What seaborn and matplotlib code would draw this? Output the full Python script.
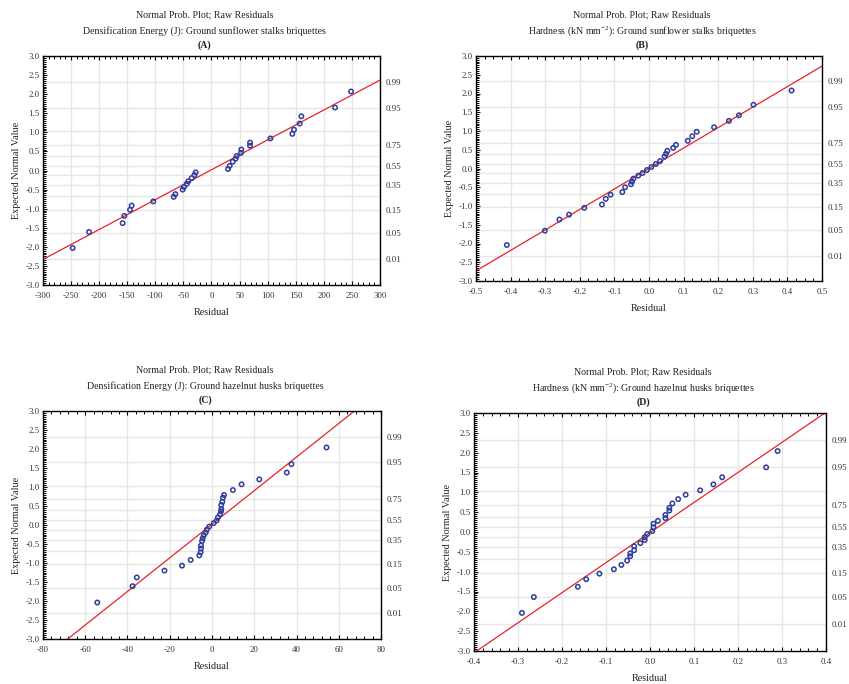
import matplotlib
matplotlib.use("Agg")
import matplotlib.pyplot as plt
import seaborn as sns
import numpy as np
from statistics import NormalDist
from matplotlib.ticker import MultipleLocator, FixedLocator, FormatStrFormatter

# ---------------- data ----------------
resid_A = [-247.2, -218.1, -158.2, -155.2, -145.1, -142.1, -103.6, -67.3, -64.4, -51.3,
           -49.0, -44.2, -41.2, -35.3, -30.5, -28.2, 29.4, 32.4, 37.7, 43.0,
           44.8, 52.5, 53.1, 68.6, 68.6, 104.8, 143.9, 146.9, 157.0, 160.0, 219.9, 248.4]
expn_A = [-2.03, -1.61, -1.38, -1.19, -1.03, -0.92, -0.81, -0.69, -0.62, -0.50,
          -0.43, -0.35, -0.28, -0.20, -0.12, -0.05, 0.04, 0.12, 0.23, 0.31,
          0.38, 0.46, 0.55, 0.65, 0.73, 0.84, 0.96, 1.07, 1.23, 1.42, 1.65, 2.07]

resid_B = [-0.411, -0.301, -0.259, -0.231, -0.187, -0.136, -0.125, -0.111, -0.077, -0.069,
           -0.052, -0.049, -0.045, -0.031, -0.019, -0.006, 0.007, 0.020, 0.032, 0.045,
           0.049, 0.053, 0.070, 0.078, 0.112, 0.125, 0.138, 0.188, 0.231, 0.260, 0.302, 0.412]
expn_B = [-2.04, -1.66, -1.36, -1.23, -1.05, -0.96, -0.81, -0.70, -0.63, -0.50,
          -0.42, -0.35, -0.27, -0.19, -0.12, -0.04, 0.04, 0.12, 0.20, 0.32,
          0.39, 0.47, 0.55, 0.63, 0.74, 0.86, 0.98, 1.10, 1.27, 1.42, 1.70, 2.08]

resid_C = [-54.3, -37.6, -35.6, -22.5, -14.2, -10.1, -6.0, -5.4, -5.2, -5.2,
           -4.7, -4.4, -3.9, -3.0, -2.4, -1.3, 0.8, 2.2, 2.8, 3.8,
           4.3, 4.4, 4.4, 4.9, 5.2, 5.7, 9.9, 14.0, 22.4, 35.4, 37.6, 54.2]
expn_C = [-2.04, -1.61, -1.38, -1.20, -1.07, -0.92, -0.80, -0.72, -0.62, -0.54,
          -0.42, -0.35, -0.27, -0.20, -0.12, -0.04, 0.05, 0.12, 0.20, 0.28,
          0.36, 0.42, 0.53, 0.61, 0.72, 0.79, 0.92, 1.07, 1.20, 1.38, 1.60, 2.04]

resid_D = [-0.291, -0.264, -0.164, -0.145, -0.115, -0.082, -0.065, -0.052, -0.045, -0.045,
           -0.036, -0.036, -0.022, -0.012, -0.012, -0.006, 0.005, 0.008, 0.008, 0.018,
           0.035, 0.035, 0.044, 0.044, 0.051, 0.064, 0.081, 0.114, 0.144, 0.164, 0.264, 0.290]
expn_D = [-2.04, -1.64, -1.38, -1.19, -1.05, -0.94, -0.83, -0.72, -0.61, -0.54,
          -0.46, -0.36, -0.28, -0.20, -0.13, -0.05, 0.02, 0.12, 0.21, 0.28,
          0.35, 0.43, 0.54, 0.61, 0.72, 0.83, 0.94, 1.05, 1.20, 1.38, 1.63, 2.04]

# reference line (slope, intercept) for each panel
line_A = (0.00783, 0.02)
line_B = (5.46, 0.0)
line_C = (0.0442, 0.02)
line_D = (7.58, -0.014)

titles_A = ["Normal Prob. Plot; Raw Residuals",
            "Densification Energy (J): Ground sunflower stalks briquettes", "(A)"]
titles_B = ["Normal Prob. Plot; Raw Residuals",
            r"Hardness (kN mm$^{-2}$): Ground sunflower stalks briquettes", "(B)"]
titles_C = ["Normal Prob. Plot; Raw Residuals",
            "Densification Energy (J): Ground hazelnut husks briquettes", "(C)"]
titles_D = ["Normal Prob. Plot; Raw Residuals",
            r"Hardness (kN mm$^{-2}$): Ground hazelnut husks briquettes", "(D)"]

xlim_A, xmaj_A, xmin_A, xfmt_A = (-300, 300), 50, 10, "%d"
xlim_B, xmaj_B, xmin_B, xfmt_B = (-0.5, 0.5), 0.1, 0.025, "%.1f"
xlim_C, xmaj_C, xmin_C, xfmt_C = (-80, 80), 20, 4, "%d"
xlim_D, xmaj_D, xmin_D, xfmt_D = (-0.4, 0.4), 0.1, 0.02, "%.1f"

prob_labels = [0.01, 0.05, 0.15, 0.35, 0.55, 0.75, 0.95, 0.99]
prob_grid = [0.01, 0.05, 0.15, 0.25, 0.35, 0.45, 0.55, 0.65, 0.75, 0.85, 0.95, 0.99]

# ---------------- style ----------------
sns.set_theme(style="white")
plt.rcParams["font.family"] = ["Liberation Serif", "DejaVu Serif"]
plt.rcParams["mathtext.fontset"] = "custom"
plt.rcParams["mathtext.rm"] = "Liberation Serif"
plt.rcParams["mathtext.it"] = "Liberation Serif:italic"
plt.rcParams["axes.unicode_minus"] = False

FS_TICK = 6.4
FS_TITLE = 7.1
FS_LABEL = 7.3
TICKC = "#333333"
BLUE = "#2f3d9c"
RED = "#e8222a"
GRID = "#e6e6e6"

W, H = 849, 684
fig = plt.figure(figsize=(W / 100, H / 100), dpi=100)


def make_panel(box, resid, expn, line, titles, xlim, xmaj, xmin, xfmt):
    l, r, t, b = box
    ax = fig.add_axes([l / W, 1 - b / H, (r - l) / W, (b - t) / H])
    ax.set_xlim(*xlim)
    ax.set_ylim(-3, 3)
    nd = NormalDist()
    gz = [nd.inv_cdf(p) for p in prob_grid]
    for z in gz:
        ax.axhline(z, color=GRID, lw=1.0, zorder=0)
    ax.xaxis.set_major_locator(MultipleLocator(xmaj))
    ax.xaxis.set_minor_locator(MultipleLocator(xmin))
    ax.xaxis.set_major_formatter(FormatStrFormatter(xfmt))
    ax.yaxis.set_major_locator(MultipleLocator(0.5))
    ax.yaxis.set_minor_locator(MultipleLocator(0.05))
    ax.yaxis.set_major_formatter(FormatStrFormatter("%.1f"))
    ax.grid(True, axis="x", which="major", color=GRID, lw=1.0, zorder=0)
    ax.set_axisbelow(True)

    ax.axline((0, line[1]), slope=line[0], color=RED, lw=0.9, zorder=2)
    sns.scatterplot(x=resid, y=expn, ax=ax, marker="o", s=10, color=BLUE,
                    linewidth=1.1, zorder=3, legend=False)
    coll = ax.collections[-1]
    coll.set_facecolor("none")
    coll.set_edgecolor(BLUE)

    for sp in ax.spines.values():
        sp.set_visible(True)
        sp.set_color("black")
        sp.set_linewidth(1.0)
    ax.tick_params(which="both", direction="in", top=True, right=True,
                   bottom=True, left=True, colors="black", labelcolor=TICKC,
                   labelsize=FS_TICK)
    ax.tick_params(which="major", length=3.2, width=0.8)
    ax.tick_params(which="minor", length=2.0, width=0.7)
    ax.tick_params(axis="x", which="major", pad=5)
    ax.tick_params(axis="y", which="major", pad=2.5)

    ax.set_xlabel("Residual", fontsize=FS_LABEL, color="#222222", labelpad=6)
    ax.set_ylabel("Expected Normal Value", fontsize=FS_LABEL, color="#222222", labelpad=3)

    ax2 = ax.twinx()
    ax2.set_ylim(-3, 3)
    ax2.yaxis.set_major_locator(FixedLocator([nd.inv_cdf(p) for p in prob_labels]))
    ax2.set_yticklabels([f"{p:.2f}" for p in prob_labels])
    ax2.tick_params(axis="y", length=0, pad=4, labelsize=FS_TICK, labelcolor=TICKC)
    ax2.yaxis.set_minor_locator(FixedLocator([]))
    for sp in ax2.spines.values():
        sp.set_visible(False)
    ax2.grid(False)

    cx = (l + r) / 2 - 7
    for txt, dy, wt in zip(titles, (41, 25, 11), ("normal", "normal", "bold")):
        fig.text(cx / W, 1 - (t - dy) / H, txt, ha="center", va="center",
                 fontsize=FS_TITLE, color="#222222", fontweight=wt)
    return ax


make_panel((43, 380, 56, 285), resid_A, expn_A, line_A, titles_A, xlim_A, xmaj_A, xmin_A, xfmt_A)
make_panel((476, 822, 56, 281), resid_B, expn_B, line_B, titles_B, xlim_B, xmaj_B, xmin_B, xfmt_B)
make_panel((43, 381, 411, 639), resid_C, expn_C, line_C, titles_C, xlim_C, xmaj_C, xmin_C, xfmt_C)
make_panel((474, 826, 413, 651), resid_D, expn_D, line_D, titles_D, xlim_D, xmaj_D, xmin_D, xfmt_D)

fig.savefig("out.png", dpi=100)
